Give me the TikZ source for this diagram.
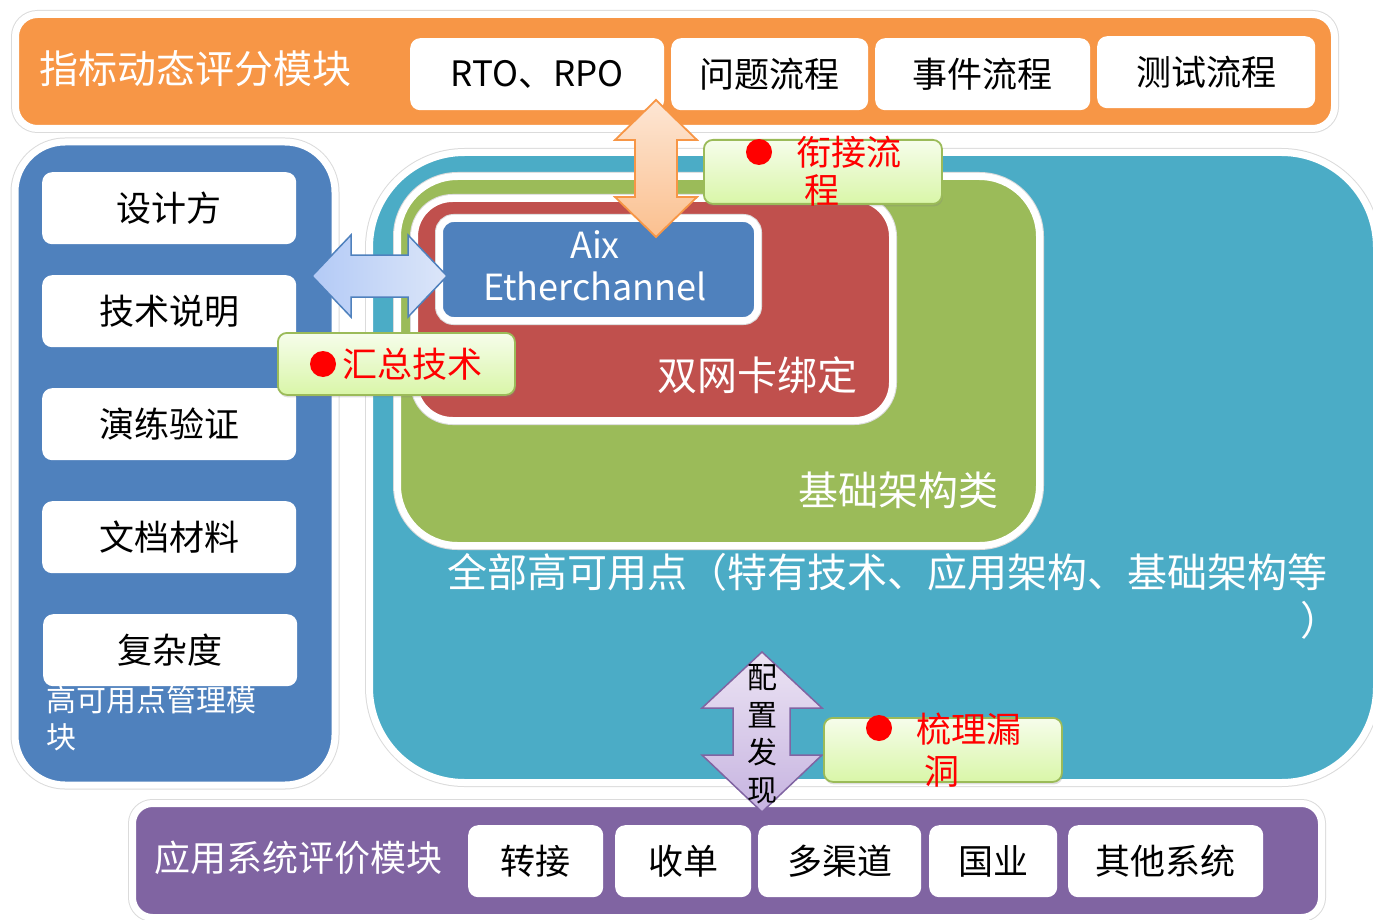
\documentclass[tikz,border=0pt]{standalone}
\usepackage{fontspec}
\setmainfont{Noto Sans CJK SC}
\usetikzlibrary{shadows}
\definecolor{cOrange}{HTML}{F79646}
\definecolor{cBlue}{HTML}{4F81BD}
\definecolor{cTeal}{HTML}{4BACC6}
\definecolor{cGreen}{HTML}{9BBB59}
\definecolor{cRed}{HTML}{C0504D}
\definecolor{cPurple}{HTML}{8064A2}
\definecolor{lgTop}{HTML}{F6FDEB}
\definecolor{lgBot}{HTML}{D9F6A8}
\definecolor{oaTop}{HTML}{FDE6D4}
\definecolor{oaBot}{HTML}{FBC08F}
\definecolor{baL}{HTML}{B3CAF6}
\definecolor{baR}{HTML}{DCE6F9}
\definecolor{paTop}{HTML}{ECE4F4}
\definecolor{paBot}{HTML}{C6B3E0}
\newcommand\myfs[1]{\fontsize{#1}{#1}\selectfont}
\tikzset{
  panel/.style={draw=white, line width=7pt, anchor=north west, inner sep=0pt,
    preaction={draw=black!14, line width=9pt},
    drop shadow={shadow xshift=1.5pt, shadow yshift=-3pt, opacity=0.22}},
  wbox/.style={fill=white, rounded corners=10pt, anchor=north west, inner sep=0pt,
    minimum height=72pt, text=black, font=\myfs{35}},
  wtext/.style={text=white, inner sep=0pt},
  lbox/.style={top color=lgTop, bottom color=lgBot, draw=cGreen, line width=1.8pt,
    rounded corners=9pt, anchor=north west, inner sep=0pt,
    drop shadow={shadow xshift=1pt, shadow yshift=-2.5pt, opacity=0.25}},
  rtext/.style={text=red, inner sep=0pt, font=\myfs{35}},
  rdot/.style={circle, fill=red, inner sep=0pt, minimum size=26pt},
}
\begin{document}
\begin{tikzpicture}[x=1pt,y=-1pt]
\useasboundingbox (0,0) rectangle (1373,920);

% ---------- teal big panel ----------
\node[panel, fill=cTeal, rounded corners=95pt, minimum width=1007pt, minimum height=630pt] (teal) at (366,149) {};
\node[panel, fill=cGreen, rounded corners=60pt, minimum width=642pt, minimum height=369pt] (green) at (394,173) {};
\node[panel, fill=cRed, rounded corners=38pt, minimum width=478pt, minimum height=222pt] (red) at (411,195) {};
\node[panel, fill=cBlue, rounded corners=14pt, minimum width=318pt, minimum height=102pt] (aix) at (436,215) {};
\node[wtext, font=\myfs{36}, align=center] (aixt) at (595,266) {Aix\\[6pt]Etherchannel};
\node[wtext, font=\myfs{40}] (nic) at (757,375) {双网卡绑定};
\node[wtext, font=\myfs{40}] (infra) at (898,490) {基础架构类};
\node[wtext, font=\myfs{40}, anchor=west] (all1) at (447,572) {全部高可用点（特有技术、应用架构、基础架构等};
\node[wtext, font=\myfs{40}] (all2) at (1320,620) {）};

% ---------- left panel ----------
\node[panel, fill=cBlue, rounded corners=50pt, minimum width=320pt, minimum height=643pt] (left) at (11.5,138.5) {};
\node[wtext, font=\myfs{30}, anchor=north west, align=left] (leftt) at (46,686) {高可用点管理模\\[7pt]块};
\node[wbox, minimum width=254pt] (l1) at (42,172) {设计方};
\node[wbox, minimum width=254pt] (l2) at (42,275) {技术说明};
\node[wbox, minimum width=254pt] (l3) at (42,388) {演练验证};
\node[wbox, minimum width=254pt] (l4) at (42,501) {文档材料};
\node[wbox, minimum width=254pt] (l5) at (43,614) {复杂度};

% ---------- top bar ----------
\node[panel, fill=cOrange, rounded corners=22pt, minimum width=1319pt, minimum height=114pt] (top) at (12,11) {};
\node[wtext, font=\myfs{39}] (topt) at (195,69) {指标动态评分模块};
\node[wbox, minimum width=254pt] (t1) at (410,38) {RTO、RPO};
\node[wbox, minimum width=197pt] (t2) at (671,38) {问题流程};
\node[wbox, minimum width=215pt] (t3) at (875,38) {事件流程};
\node[wbox, minimum width=218pt] (t4) at (1097,36) {测试流程};

% ---------- bottom bar ----------
\node[panel, fill=cPurple, rounded corners=20pt, minimum width=1189pt, minimum height=114pt] (bot) at (129,800) {};
\node[wtext, font=\myfs{36}] (bott) at (298,858) {应用系统评价模块};
\node[wbox, minimum width=135pt] (b1) at (468,825) {转接};
\node[wbox, minimum width=136pt] (b2) at (615,825) {收单};
\node[wbox, minimum width=163pt] (b3) at (758,825) {多渠道};
\node[wbox, minimum width=128pt] (b4) at (929,825) {国业};
\node[wbox, minimum width=195pt] (b5) at (1068,825) {其他系统};

% ---------- arrows ----------
\path[top color=oaTop, bottom color=oaBot, draw=cOrange, line width=1.8pt, line join=miter]
  (656,100) -- (697,140) -- (677,140) -- (677,197) -- (697,197) -- (656,237)
  -- (615,197) -- (635,197) -- (635,140) -- (615,140) -- cycle;
\path[left color=baL, right color=baR, draw=cBlue, line width=1.5pt, line join=miter]
  (312,276) -- (351,235) -- (351,255) -- (408,255) -- (408,235) -- (447,276)
  -- (408,317) -- (408,297) -- (351,297) -- (351,317) -- cycle;
\path[top color=paTop, bottom color=paBot, draw=cPurple, line width=1.5pt, line join=miter]
  (762,652) -- (822,708) -- (790,708) -- (790,755) -- (822,755) -- (762,812)
  -- (702,755) -- (733,755) -- (733,708) -- (702,708) -- cycle;
\node[inner sep=0pt, font=\myfs{30}, align=center, text=black] (cfg) at (762,734)
  {配\\[7.5pt]置\\[7.5pt]发\\[7.5pt]现};

% ---------- green labels ----------
\node[lbox, minimum width=238pt, minimum height=64pt] (lab1) at (703,139) {};
\node[rdot] (d1) at (759,152) {};
\node[rtext] (lab1a) at (849,152) {衔接流};
\node[rtext] (lab1b) at (822,190) {程};

\node[lbox, minimum width=237pt, minimum height=62pt] (lab2) at (277,332) {};
\node[rdot] (d2) at (323,364) {};
\node[rtext] (lab2a) at (412,364) {汇总技术};

\node[lbox, minimum width=238pt, minimum height=64pt] (lab3) at (823,717) {};
\node[rdot] (d3) at (879,728) {};
\node[rtext] (lab3a) at (969,729) {梳理漏};
\node[rtext] (lab3b) at (942,771) {洞};
\end{tikzpicture}
\end{document}
